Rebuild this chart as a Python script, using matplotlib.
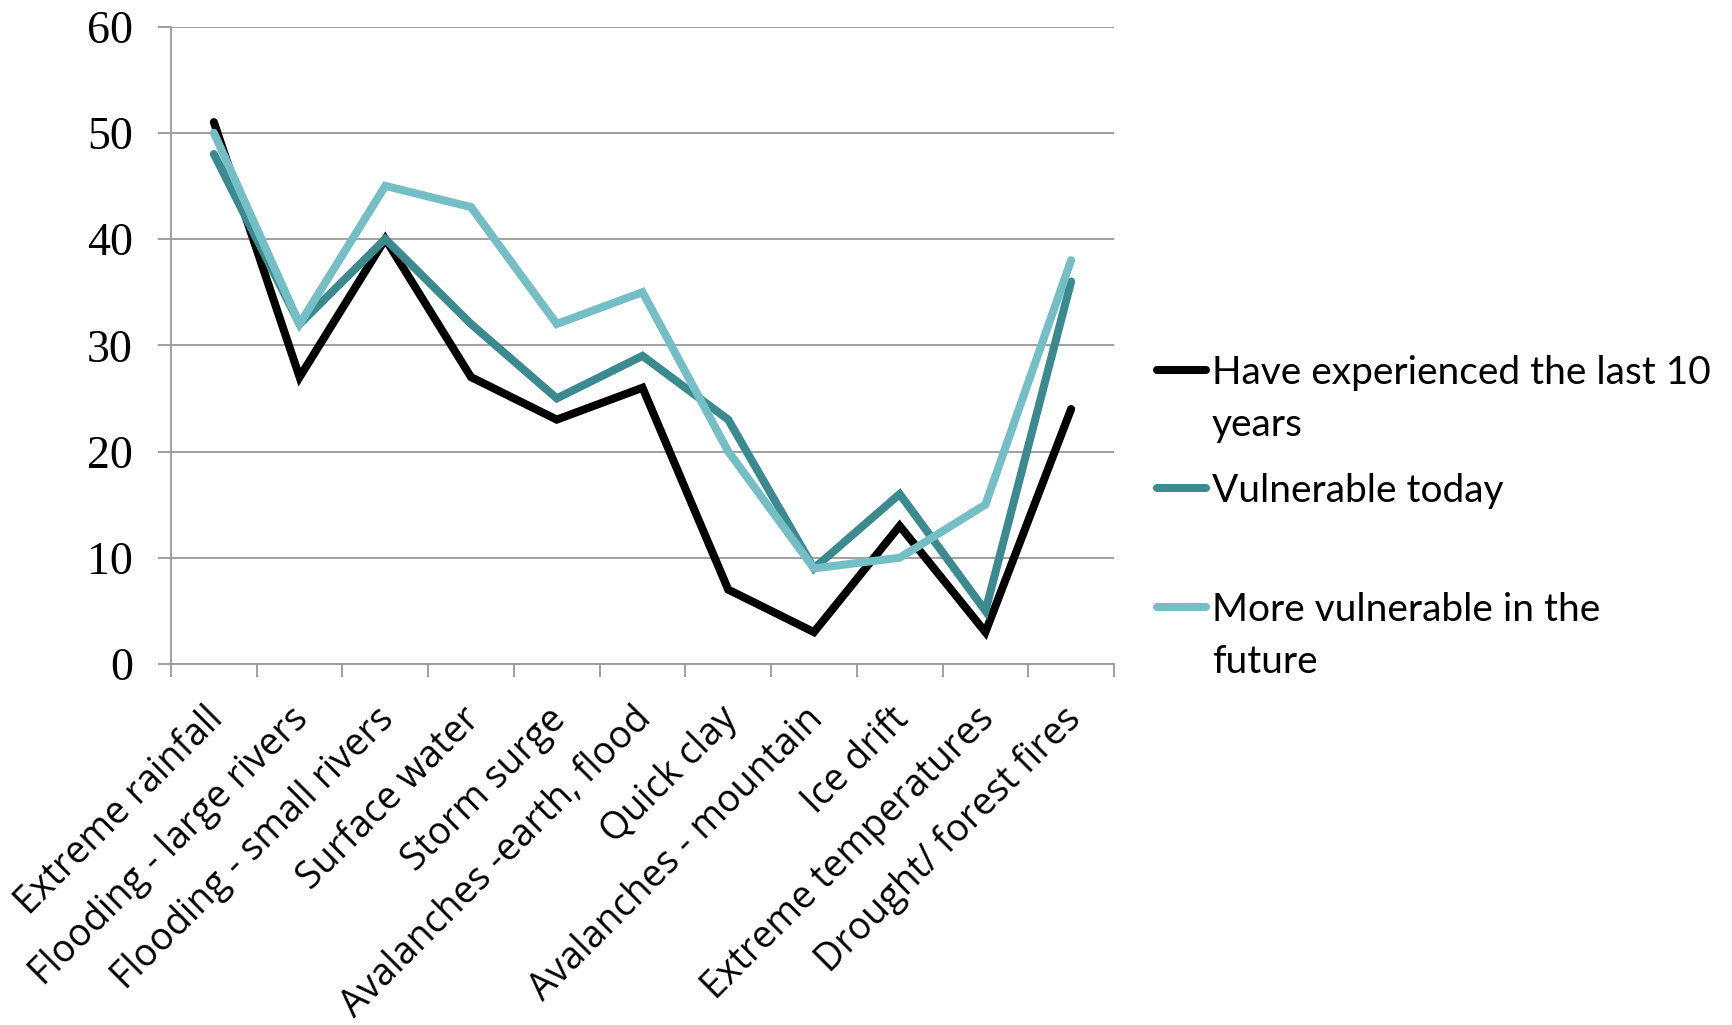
import matplotlib
matplotlib.use("Agg")
import matplotlib.pyplot as plt
from matplotlib.lines import Line2D
from matplotlib.transforms import ScaledTranslation

categories = ["Extreme rainfall", "Flooding - large rivers", "Flooding - small rivers",
              "Surface water", "Storm surge", "Avalanches -earth, flood", "Quick clay",
              "Avalanches - mountain", "Ice drift", "Extreme temperatures",
              "Drought/ forest fires"]
experienced = [51, 27, 40, 27, 23, 26, 7, 3, 13, 3, 24]
vulnerable_today = [48, 32, 40, 32, 25, 29, 23, 9, 16, 5, 36]
more_vulnerable = [50, 32, 45, 43, 32, 35, 20, 9, 10, 15, 38]
series_labels = ["Have experienced the last 10\nyears", "Vulnerable today",
                 "More vulnerable in the\nfuture"]
colors = ["#000000", "#3B8A90", "#74BFC5"]
yticks = [0, 10, 20, 30, 40, 50, 60]

W, H = 1733, 1025
fig = plt.figure(figsize=(W / 100, H / 100), dpi=100)
ax = fig.add_axes([171 / W, 1 - 664 / H, (1114 - 171) / W, (664 - 26.5) / H])

x = list(range(len(categories)))
for vals, c in zip([experienced, vulnerable_today, more_vulnerable], colors):
    ax.plot(x, vals, color=c, lw=5.8, solid_capstyle="round", solid_joinstyle="miter", zorder=3)

ax.set_xlim(-0.5, len(categories) - 0.5)
ax.set_ylim(0, 60)
ax.set_yticks(yticks)
ax.set_yticklabels([str(v) for v in yticks], fontfamily="Liberation Serif", fontsize=33)
ax.yaxis.grid(True, color="#999999", lw=1.3)
ax.set_axisbelow(True)
ax.tick_params(axis="y", length=9.5, width=1.3, color="#999999", pad=18, direction="out")

ax.set_xticks(x)
ax.set_xticklabels(categories, rotation=45, ha="right", va="top", rotation_mode="anchor",
                   fontfamily="Open Sans", fontsize=27)
ax.set_xticks([i - 0.5 for i in range(len(categories) + 1)], minor=True)
ax.tick_params(axis="x", which="major", length=0, pad=26)
ax.tick_params(axis="x", which="minor", length=9.5, width=1.3, color="#999999", direction="out")
shift = ScaledTranslation(-10 / 100, 0, fig.dpi_scale_trans)
for lbl in ax.get_xticklabels():
    lbl.set_transform(lbl.get_transform() + shift)

for s in ["top", "right"]:
    ax.spines[s].set_visible(False)
for s in ["left", "bottom"]:
    ax.spines[s].set_color("#999999")
    ax.spines[s].set_linewidth(1.3)

# legend, drawn by hand to keep the handle beside the first text line
ys = [370, 488, 607]
for lab, c, yc in zip(series_labels, colors, ys):
    fy = 1 - yc / H
    fig.add_artist(Line2D([1157 / W, 1206 / W], [fy, fy], color=c, lw=5.8,
                          solid_capstyle="round", transform=fig.transFigure))
    for i, line in enumerate(lab.split("\n")):
        fig.text(1212 / W, 1 - (yc + 14 + i * 52) / H, line, fontfamily="Lato", fontsize=28,
                 va="baseline", ha="left")

fig.savefig("out.png", dpi=100)
